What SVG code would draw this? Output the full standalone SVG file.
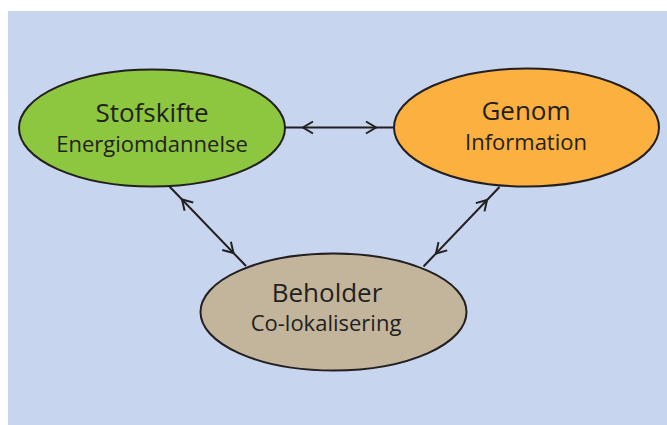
<svg xmlns="http://www.w3.org/2000/svg" width="667" height="425" viewBox="0 0 667 425">
  <style>
    .node { stroke: #231f20; stroke-width: 2; }
    .t1 { font-family: "Open Sans", "Liberation Sans", sans-serif; font-size: 26px; fill: #231f20; text-anchor: middle; }
    .t2 { font-family: "Open Sans", "Liberation Sans", sans-serif; font-size: 22px; fill: #231f20; text-anchor: middle; }
    .edge { stroke: #231f20; stroke-width: 2; fill: none; marker-start: url(#chev); marker-end: url(#chev); }
  </style>
  <defs>
    <marker id="chev" markerUnits="userSpaceOnUse" orient="auto-start-reverse" refX="18" refY="0" markerWidth="40" markerHeight="20" viewBox="-20 -10 40 20" overflow="visible">
      <path d="M -10,-6 L 0,0 L -10,6" fill="none" stroke="#231f20" stroke-width="2" stroke-linejoin="miter"/>
    </marker>
  </defs>
  <rect x="8" y="11" width="659" height="414" fill="#c7d5ee"/>
  <g id="connectors">
    <line class="edge" x1="285" y1="127.5" x2="394" y2="127.5"/>
    <line class="edge" x1="169.5" y1="186.5" x2="246" y2="266"/>
    <line class="edge" x1="499.5" y1="187" x2="423.5" y2="266.5"/>
  </g>
  <g id="stofskifte">
    <ellipse class="node" cx="152" cy="128" rx="133" ry="58.5" fill="#8dc63f"/>
    <text class="t1" x="152" y="122">Stofskifte</text>
    <text class="t2" x="152" y="151.5">Energiomdannelse</text>
  </g>
  <g id="genom">
    <ellipse class="node" cx="526.5" cy="127.5" rx="132.5" ry="59" fill="#fbb040"/>
    <text class="t1" x="526" y="120">Genom</text>
    <text class="t2" x="526" y="150">Information</text>
  </g>
  <g id="beholder">
    <ellipse class="node" cx="333.5" cy="312" rx="133" ry="58.5" fill="#c2b59b"/>
    <text class="t1" x="327" y="301.5">Beholder</text>
    <text class="t2" x="326" y="330.5">Co-lokalisering</text>
  </g>
</svg>
